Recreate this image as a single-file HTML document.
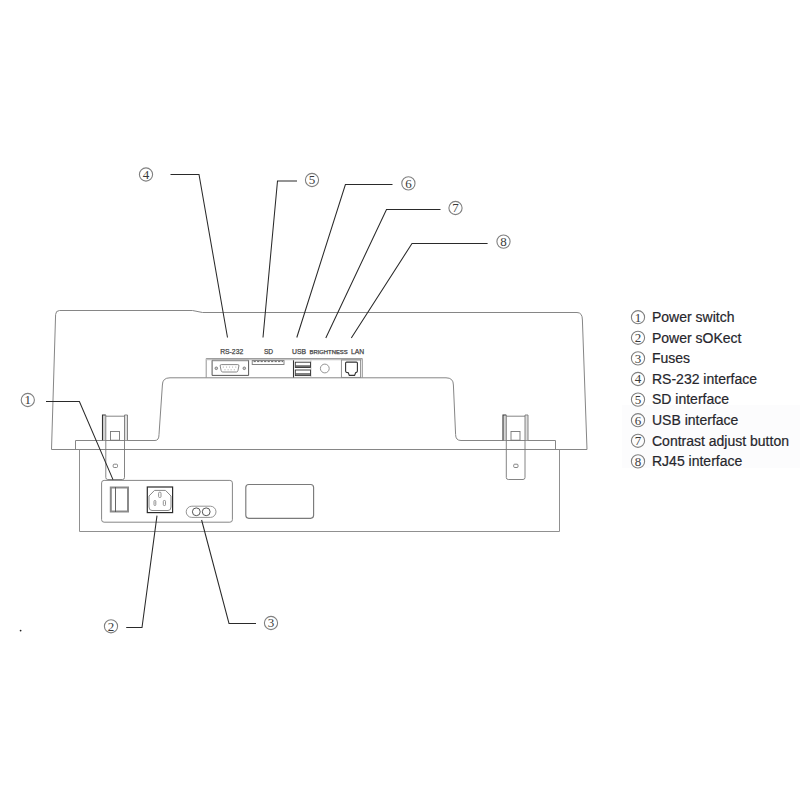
<!DOCTYPE html>
<html><head><meta charset="utf-8">
<style>
html,body{margin:0;padding:0;background:#fff;}
body{width:800px;height:800px;overflow:hidden;position:relative;}
svg{position:absolute;left:0;top:0;}
.cn circle{fill:none;stroke:#808080;stroke-width:1.1;}
.cn text{font-family:"Liberation Serif",serif;font-size:13px;fill:#3a3a3a;text-anchor:middle;}
.lg{font-family:"Liberation Sans",sans-serif;font-size:14px;fill:#26262c;stroke:#26262c;stroke-width:0.2;}
.lbl{font-family:"Liberation Sans",sans-serif;font-size:6.6px;fill:#333;stroke:#555;stroke-width:0.25;}
</style></head>
<body>
<svg width="800" height="800" viewBox="0 0 800 800">
<rect x="622" y="405" width="178" height="63" fill="#fcfcfd"/>
<circle cx="20.6" cy="630.6" r="0.9" fill="#222"/>
<!-- housing -->
<g fill="none" stroke="#868686" stroke-width="1">
  <!-- upper housing outline -->
  <path d="M51.5,449.5 L55.6,314.5 Q55.8,310.5 59.5,310.5 L192.5,310.5 L202.5,312.5 L577,312.5 Q582.4,312.5 582.4,320 L587,449.5 Z"/>
  <!-- inner cutout + ledge -->
  <path d="M75.5,449.5 L75.5,440.5 L155,440.5 Q159,440.5 159,434.5 L162.4,385 Q162.4,377.8 170,377.8 L446,377.8 Q453.4,377.8 453.4,385 L455.6,434.5 Q455.6,440.5 461,440.5 L555.5,440.5 L555.5,449.5"/>
  <!-- lower body -->
  <path d="M79.5,449.5 L79.5,531.5 L559.5,531.5 L559.5,449.5" stroke="#909090"/>
  <!-- connector panel -->
  <rect x="101.6" y="480.4" width="130.8" height="41.8" rx="2.5"/>
  <rect x="245.8" y="484.5" width="67.8" height="33.8" rx="3" stroke="#7a7a7a" stroke-width="1.15"/>
</g>
<!-- brackets -->
<g fill="none" stroke="#777" stroke-width="0.9">
  <g id="brk">
    <rect x="102.8" y="415.3" width="3" height="24.9" fill="#d4d4d4" stroke="none"/>
    <rect x="124.6" y="415.3" width="2.8" height="24.9" fill="#dedede" stroke="none"/>
    <path d="M102.5,440.2 L102.5,415 L105.8,415" stroke="#333" stroke-width="1.1"/>
    <path d="M124.5,415 L127.5,415 L127.5,440.2"/>
    <path d="M105.8,415 L105.8,477.5 Q105.8,479.5 107.8,479.5 L122.5,479.5 Q124.5,479.5 124.5,477.5 L124.5,415"/>
    <path d="M105.8,416.2 L124.5,416.2"/>
    <rect x="110.5" y="431.5" width="9" height="8.7"/>
    <rect x="113.2" y="464.2" width="4.3" height="3.3" rx="1"/>
  </g>
  <g transform="translate(400.5,0)">
    <rect x="102.8" y="415.3" width="3" height="24.9" fill="#d4d4d4" stroke="none"/>
    <rect x="124.6" y="415.3" width="2.8" height="24.9" fill="#dedede" stroke="none"/>
    <path d="M102.5,440.2 L102.5,415 L105.8,415" stroke="#333" stroke-width="1.1"/>
    <path d="M124.5,415 L127.5,415 L127.5,440.2"/>
    <path d="M105.8,415 L105.8,477.5 Q105.8,479.5 107.8,479.5 L122.5,479.5 Q124.5,479.5 124.5,477.5 L124.5,415"/>
    <path d="M105.8,416.2 L124.5,416.2"/>
    <rect x="110.5" y="431.5" width="9" height="8.7"/>
    <rect x="113.2" y="464.2" width="4.3" height="3.3" rx="1"/>
  </g>
</g>
<!-- lower panel components -->
<g fill="none">
  <!-- switch -->
  <rect x="110.8" y="487.5" width="17.2" height="24" stroke="#8a8a8a" stroke-width="2"/>
  <path d="M115.5,487 L115.5,512" stroke="#555" stroke-width="0.9"/>
  <!-- socket -->
  <rect x="147.3" y="487" width="25.3" height="25.6" stroke="#2a2a2a" stroke-width="1.2"/>
  <path d="M154.5,490.4 L165.5,490.4 L171,496 L171,507 Q171,510.5 168,510.5 L152,510.5 Q149,510.5 149,507 L149,496 Z" stroke="#888" stroke-width="1"/>
  <rect x="158.6" y="492.2" width="2.4" height="5.3" rx="1" stroke="#888" stroke-width="0.9"/>
  <rect x="154" y="500.5" width="1.8" height="5" rx="0.8" stroke="#888" stroke-width="0.9"/>
  <rect x="163.3" y="500.5" width="2.2" height="5" rx="0.8" stroke="#888" stroke-width="0.9"/>
  <!-- fuse -->
  <rect x="186.2" y="506.2" width="29.8" height="11.2" rx="5.6" stroke="#888" stroke-width="0.9"/>
  <circle cx="196.3" cy="511.8" r="3.9" stroke="#444" stroke-width="0.9"/>
  <circle cx="206.2" cy="511.8" r="3.9" stroke="#444" stroke-width="0.9"/>
</g>
<!-- top connector panel -->
<g fill="none" stroke="#666" stroke-width="0.9">
  <path d="M206.2,377.6 L206.2,358.6 L362.3,358.6 L362.3,377.6" stroke="#888"/>
  <path d="M206.2,359.6 L362.3,359.6" stroke="#c4c4c4" stroke-width="1.2"/>
  <!-- db9 -->
  <path d="M212.1,375.4 L212.1,360.4 L248.6,360.4 L248.6,375.4 Z" stroke="#444"/>
  <path d="M212.3,360.6 L248.4,360.6" stroke="#999" stroke-width="1.2"/>
  <path d="M221.3,364.6 L237.8,364.6 Q239.2,364.6 238.9,366 L237.9,370.8 Q237.6,372 236.4,372 L222.7,372 Q221.5,372 221.2,370.8 L220.2,366 Q219.9,364.6 221.3,364.6 Z" stroke="#888" stroke-width="1"/>
  <g fill="#999" stroke="none">
    <circle cx="223.3" cy="367" r="0.55"/><circle cx="226.6" cy="367" r="0.55"/><circle cx="229.6" cy="367" r="0.55"/><circle cx="232.6" cy="367" r="0.55"/><circle cx="235.8" cy="367" r="0.55"/>
    <circle cx="225" cy="369.8" r="0.55"/><circle cx="228.1" cy="369.8" r="0.55"/><circle cx="231.1" cy="369.8" r="0.55"/><circle cx="234.3" cy="369.8" r="0.55"/>
  </g>
  <circle cx="216.3" cy="368.3" r="1.3" stroke="#777" fill="#ccc"/>
  <circle cx="244.3" cy="368.3" r="1.3" stroke="#777" fill="#ccc"/>
  <!-- sd -->
  <rect x="252.2" y="360.6" width="31.8" height="3.9" stroke="#777"/>
  <path d="M253.6,361.6 L283,361.6" stroke="#666" stroke-width="1" stroke-dasharray="2.2,1.3"/>
  <!-- usb -->
  <path d="M293.5,360.3 L293.5,377.5" stroke="#333" stroke-width="1.1"/>
  <path d="M310.9,360.3 L310.9,377.5" stroke="#bbb"/>
  <rect x="295.5" y="365.2" width="14.8" height="2.2" fill="#707070" stroke="none"/>
  <rect x="295.5" y="373" width="14.8" height="2.3" fill="#808080" stroke="none"/>
  <rect x="295.3" y="362.2" width="15.2" height="5.3" stroke="#333"/>
  <rect x="295.3" y="370" width="15.2" height="5.6" stroke="#333"/>
  <!-- brightness -->
  <circle cx="324.8" cy="368.5" r="4.4" stroke="#888"/>
  <!-- lan -->
  <rect x="341.4" y="359.9" width="19.2" height="17.5" stroke="#888"/>
  <path d="M346.6,362.1 L356.4,362.1 Q357.4,362.1 357.4,363.1 L357.4,371 Q357.4,372.2 356.4,372.4 L355.6,372.7 L354.6,375.4 L349.3,375.4 L348.3,372.7 L346.6,372.4 Q345.6,372.2 345.6,371 L345.6,363.1 Q345.6,362.1 346.6,362.1 Z" stroke="#333" stroke-width="1.1"/>
</g>
<!-- tiny labels -->
<g class="lbl">
  <text x="220.2" y="353.5" textLength="23" lengthAdjust="spacingAndGlyphs">RS-232</text>
  <text x="263.9" y="353.5" textLength="9.2" lengthAdjust="spacingAndGlyphs">SD</text>
  <text x="292.1" y="353.5" textLength="14" lengthAdjust="spacingAndGlyphs">USB</text>
  <text x="309.5" y="353.5" textLength="38.2" lengthAdjust="spacingAndGlyphs" style="font-size:5px">BRIGHTNESS</text>
  <text x="350.9" y="353.5" textLength="13.2" lengthAdjust="spacingAndGlyphs">LAN</text>
</g>
<!-- leader lines -->
<g fill="none" stroke="#2a2a2a" stroke-width="1.05">
  <polyline points="170.5,174.5 199,174.5 227.5,337.5"/>
  <polyline points="297,181 277.5,181 263,337.5"/>
  <polyline points="392.5,184.5 345.4,184.5 296.8,337.5"/>
  <polyline points="440.5,209.5 386.5,209.5 325.8,338"/>
  <polyline points="487.6,243.5 412,243.5 351.3,338"/>
  <polyline points="46,401.5 79.4,401.5 113,479.6"/>
  <polyline points="126.2,627.5 142,627.5 157,515.6"/>
  <polyline points="256,623.5 229,623.5 201.6,520"/>
</g>
<!-- circled numbers -->
<g class="cn">
  <g transform="translate(146,174.5)"><circle r="6.6"/><text y="4.4">4</text></g>
  <g transform="translate(312,180)"><circle r="6.6"/><text y="4.4">5</text></g>
  <g transform="translate(408.4,183.4)"><circle r="6.6"/><text y="4.4">6</text></g>
  <g transform="translate(455.5,208)"><circle r="6.6"/><text y="4.4">7</text></g>
  <g transform="translate(503.5,241.6)"><circle r="6.6"/><text y="4.4">8</text></g>
  <g transform="translate(27.8,400)"><circle r="6.6"/><text y="4.4">1</text></g>
  <g transform="translate(111,626.3)"><circle r="6.6"/><text y="4.4">2</text></g>
  <g transform="translate(271,623)"><circle r="6.6"/><text y="4.4">3</text></g>
</g>
<!-- legend -->
<g>
  <g class="cn">
    <g transform="translate(638,317.2)"><circle r="6.6"/><text y="4.4">1</text></g>
    <g transform="translate(638,337.8)"><circle r="6.6"/><text y="4.4">2</text></g>
    <g transform="translate(638,358.4)"><circle r="6.6"/><text y="4.4">3</text></g>
    <g transform="translate(638,379.0)"><circle r="6.6"/><text y="4.4">4</text></g>
    <g transform="translate(638,399.6)"><circle r="6.6"/><text y="4.4">5</text></g>
    <g transform="translate(638,420.2)"><circle r="6.6"/><text y="4.4">6</text></g>
    <g transform="translate(638,440.8)"><circle r="6.6"/><text y="4.4">7</text></g>
    <g transform="translate(638,461.4)"><circle r="6.6"/><text y="4.4">8</text></g>
  </g>
  <text class="lg" x="652" y="322.0">Power switch</text>
  <text class="lg" x="652" y="342.6">Power sOKect</text>
  <text class="lg" x="652" y="363.2">Fuses</text>
  <text class="lg" x="652" y="383.8">RS-232 interface</text>
  <text class="lg" x="652" y="404.4">SD interface</text>
  <text class="lg" x="652" y="425.0">USB interface</text>
  <text class="lg" x="652" y="445.6">Contrast adjust button</text>
  <text class="lg" x="652" y="466.2">RJ45 interface</text>
</g>
</svg>
</body></html>
